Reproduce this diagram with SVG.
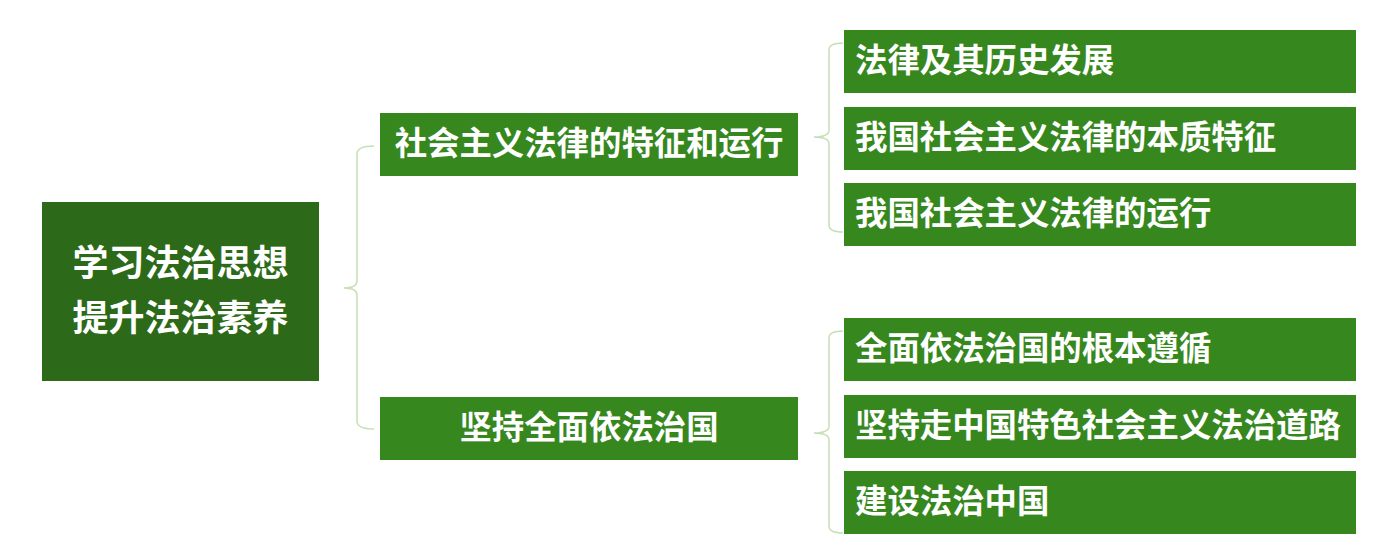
<svg xmlns="http://www.w3.org/2000/svg" width="1392" height="554" viewBox="0 0 1392 554">
<style>
.root{fill:#2c6a19}
.box{fill:#37871f}
text{fill:#ffffff;font-family:"Noto Sans CJK SC","Noto Sans",sans-serif;font-weight:bold}
.t32{font-size:32.4px}
.t36{font-size:36px}
.mid{text-anchor:middle}
.conn path{fill:none;stroke:#c5e0b4;stroke-width:1.5}
</style>
<rect width="1392" height="554" fill="#ffffff"/>
<g class="conn" id="connectors">
<path d="M374,146 Q357,146 357,154 V281 Q357,288 344,288 Q357,288 357,295 V421 Q357,429 374,429"/>
<path d="M843,43 Q829,43 829,50 V130 Q829,137 814,137 Q829,137 829,144 V225 Q829,232 843,232"/>
<path d="M843,331 Q829,331 829,338 V426 Q829,433 814,433 Q829,433 829,440 V526 Q829,533 843,533"/>
</g>
<g id="root">
<rect class="root" x="42" y="202" width="277" height="179"/>
<text class="t36 mid" x="180.5" y="276">学习法治思想</text>
<text class="t36 mid" x="180.5" y="331">提升法治素养</text>
</g>
<g id="n1">
<rect class="box" x="380" y="113" width="418" height="63"/>
<text class="t32 mid" x="589" y="155">社会主义法律的特征和运行</text>
</g>
<g id="n2">
<rect class="box" x="380" y="397" width="418" height="63"/>
<text class="t32 mid" x="589" y="439">坚持全面依法治国</text>
</g>
<g id="l1">
<rect class="box" x="844" y="30" width="512" height="63"/>
<text class="t32" x="855" y="72">法律及其历史发展</text>
</g>
<g id="l2">
<rect class="box" x="844" y="107" width="512" height="63"/>
<text class="t32" x="855" y="149">我国社会主义法律的本质特征</text>
</g>
<g id="l3">
<rect class="box" x="844" y="183" width="512" height="63"/>
<text class="t32" x="855" y="225">我国社会主义法律的运行</text>
</g>
<g id="l4">
<rect class="box" x="844" y="318" width="512" height="63"/>
<text class="t32" x="855" y="360">全面依法治国的根本遵循</text>
</g>
<g id="l5">
<rect class="box" x="844" y="395" width="512" height="63"/>
<text class="t32" x="855" y="437">坚持走中国特色社会主义法治道路</text>
</g>
<g id="l6">
<rect class="box" x="844" y="471" width="512" height="63"/>
<text class="t32" x="855" y="513">建设法治中国</text>
</g>
</svg>
